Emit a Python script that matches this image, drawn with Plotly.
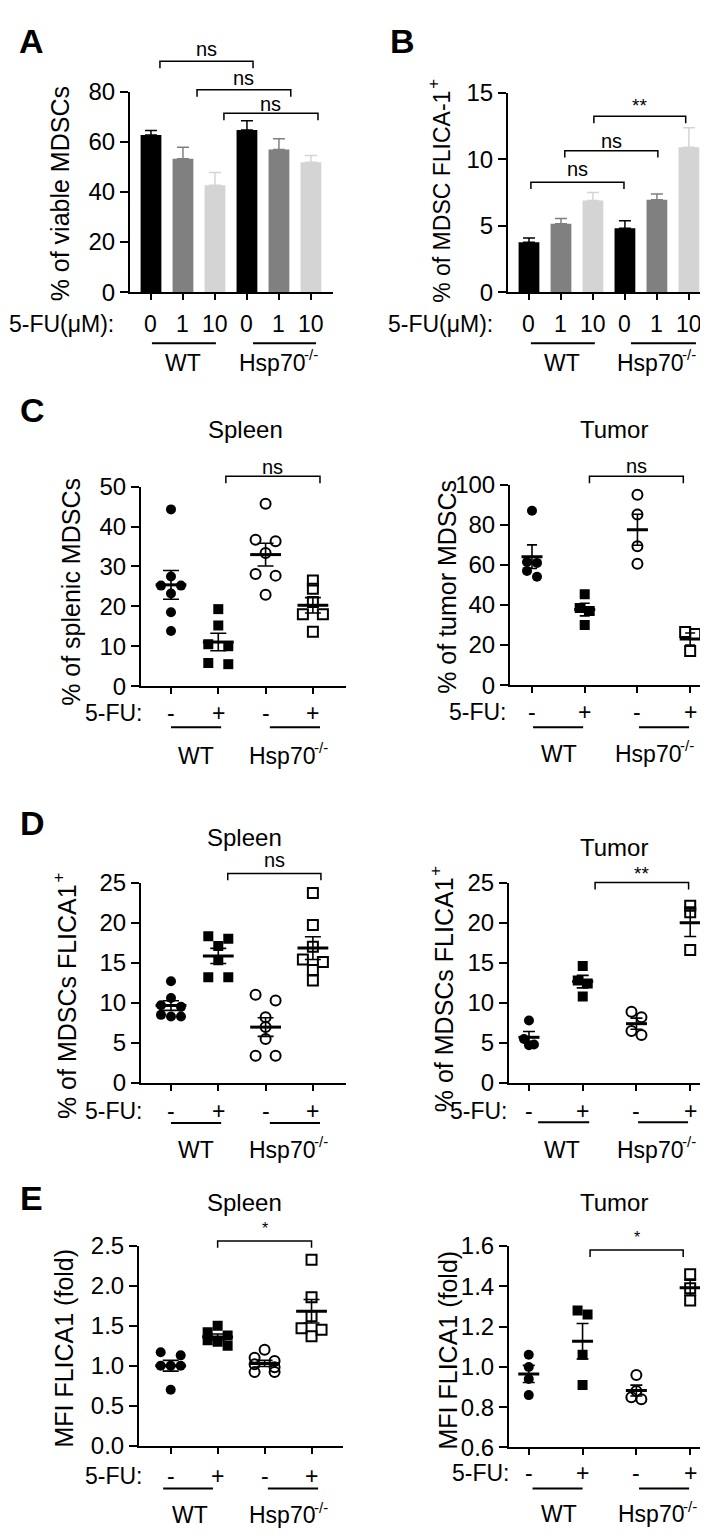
import numpy as np
import plotly.graph_objects as go

W, H = 708, 1535
FONT = "Arial, Liberation Sans, Helvetica, sans-serif"

# ---------------- data ----------------
dose_labels = ["0", "1", "10", "0", "1", "10"]
treatment_labels = ["-", "+", "-", "+"]
genotype_labels = ["WT", "Hsp70"]
knockout_sup = "-/-"

# A: % viable MDSCs (mean, SEM)
viable_mean = [62.7, 53.3, 42.7, 64.7, 56.9, 51.9]
viable_sem = [1.8, 4.5, 5.1, 3.7, 4.3, 2.7]
# B: % MDSC FLICA-1+ (mean, SEM)
flica_mean = [3.75, 5.15, 6.9, 4.8, 6.95, 10.9]
flica_sem = [0.32, 0.39, 0.59, 0.57, 0.44, 1.47]

# C: % MDSCs
c_spleen_wt_ctrl = [44.3, 27.5, 25.2, 25.2, 23.2, 18.5, 13.8]
c_spleen_wt_5fu = [19.3, 15.2, 10.5, 10.0, 5.8, 5.5]
c_spleen_ko_ctrl = [45.7, 36.7, 36.3, 33.4, 28.1, 27.7, 22.9]
c_spleen_ko_5fu = [26.5, 24.4, 21.1, 18.0, 18.0, 13.6]
c_tumor_wt_ctrl = [87.0, 61.4, 61.0, 57.0, 54.1]
c_tumor_wt_5fu = [45.4, 38.5, 37.0, 30.0]
c_tumor_ko_ctrl = [95.0, 85.1, 69.3, 60.6]
c_tumor_ko_5fu = [26.5, 25.5, 17.0]
# D: % MDSCs FLICA1+
d_spleen_wt_ctrl = [12.7, 10.6, 9.7, 9.5, 8.5, 8.3, 8.3]
d_spleen_wt_5fu = [18.3, 18.0, 17.1, 15.3, 13.2, 13.2]
d_spleen_ko_ctrl = [11.0, 10.3, 8.2, 7.0, 5.5, 3.4, 3.4]
d_spleen_ko_5fu = [23.7, 19.7, 17.0, 15.4, 15.1, 14.1, 12.8]
d_tumor_wt_ctrl = [7.8, 5.5, 4.8, 4.7]
d_tumor_wt_5fu = [14.6, 12.8, 12.4, 10.8]
d_tumor_ko_ctrl = [8.9, 8.2, 6.5, 6.0]
d_tumor_ko_5fu = [22.1, 21.3, 16.6]
# E: MFI FLICA1 (fold)
e_spleen_wt_ctrl = [1.17, 1.13, 1.0, 1.0, 1.0, 0.7]
e_spleen_wt_5fu = [1.50, 1.42, 1.38, 1.32, 1.30, 1.25]
e_spleen_ko_ctrl = [1.2, 1.1, 1.06, 1.02, 0.98, 0.92, 0.92]
e_spleen_ko_5fu = [2.33, 1.86, 1.62, 1.47, 1.45, 1.37]
e_tumor_wt_ctrl = [1.06, 1.0, 0.94, 0.86]
e_tumor_wt_5fu = [1.28, 1.26, 1.06, 0.91]
e_tumor_ko_ctrl = [0.96, 0.88, 0.85, 0.84]
e_tumor_ko_5fu = [1.46, 1.39, 1.33]

# tick values
a_yticks = [0, 20, 40, 60, 80]
b_yticks = [0, 5, 10, 15]
c_spleen_yticks = [0, 10, 20, 30, 40, 50]
c_tumor_yticks = [0, 20, 40, 60, 80, 100]
d_yticks = [0, 5, 10, 15, 20, 25]
e_spleen_yticks = [0, 0.5, 1.0, 1.5, 2.0, 2.5]
e_tumor_yticks = [0.6, 0.8, 1.0, 1.2, 1.4, 1.6]

# ---------------- helpers ----------------
def xp(px):
    return px / W


def yp(py):
    return 1 - py / H


layout = dict(width=W, height=H, margin=dict(l=0, r=0, t=0, b=0),
              paper_bgcolor="white", plot_bgcolor="white", showlegend=False,
              font=dict(family=FONT, color="black", size=23))
annotations, shapes, traces = [], [], []


def refs(n):
    s = "" if n == 1 else str(n)
    return "xaxis" + s, "yaxis" + s, "x" + s, "y" + s


def add_axes(n, xdom, xr, ydom, yr, xticks, yticks, yfmt=None):
    xa, ya, xref, yref = refs(n)
    layout[xa] = dict(domain=[xp(xdom[0]), xp(xdom[1])], range=list(xr), anchor=yref,
                      showline=True, linecolor="black", linewidth=2, ticks="outside",
                      ticklen=6, tickwidth=2, tickcolor="black", tickvals=xticks,
                      showticklabels=False, showgrid=False, zeroline=False, fixedrange=True)
    yd = dict(domain=[yp(ydom[0]), yp(ydom[1])], range=list(yr), anchor=xref,
              showline=True, linecolor="black", linewidth=2, ticks="outside",
              ticklen=8, tickwidth=2, tickcolor="black", tickvals=yticks,
              tickfont=dict(size=24, family=FONT, color="black"),
              showgrid=False, zeroline=False, fixedrange=True)
    if yfmt:
        yd["tickformat"] = yfmt
    layout[ya] = yd
    return xref, yref


def ann(text, x, y, xref="paper", size=23, xanchor="center", yanchor="middle", angle=0,
        xshift=0, yshift=0):
    annotations.append(dict(text=text, x=x, y=y, xref=xref, yref="paper", showarrow=False,
                            xanchor=xanchor, yanchor=yanchor, textangle=angle,
                            xshift=xshift, yshift=yshift,
                            font=dict(size=size, family=FONT, color="black")))


def ytitle(text, cx, top_py, sup=None, size=25):
    ann(text, xp(cx), yp(top_py), size=size, angle=-90, yanchor="top")
    if sup:
        ann(sup, xp(cx), yp(top_py + 2), size=17, angle=-90, yanchor="bottom", xshift=-8)


def genotype(xref, x, py):
    ann(genotype_labels[1], x, yp(py), xref=xref, xanchor="right", xshift=26)
    ann(knockout_sup, x, yp(py), xref=xref, xanchor="left", xshift=21, yshift=8, size=15)


def bracket(xref, x0, x1, py, label, label_py, size=20, drop=7):
    shapes.append(dict(type="path", xref=xref, yref="paper",
                       path=f"M {x0},{yp(py + drop)} L {x0},{yp(py)} L {x1},{yp(py)} L {x1},{yp(py + drop)}",
                       line=dict(color="black", width=1.5)))
    ann(label, (x0 + x1) / 2, yp(label_py), xref=xref, size=size)


def underline(xref, x0, x1, py):
    shapes.append(dict(type="line", xref=xref, yref="paper", x0=x0, x1=x1, y0=yp(py), y1=yp(py),
                       line=dict(color="black", width=2)))


def swarm(vals, ppu_y, ppu_x, pair, step_px=10, row_px=6):
    vals = np.asarray(vals, float)
    order = np.argsort(-vals, kind="stable")
    rows, cur = [], [order[0]]
    for k in order[1:]:
        if abs(vals[k] - vals[cur[0]]) * ppu_y <= row_px:
            cur.append(k)
        else:
            rows.append(cur)
            cur = [k]
    rows.append(cur)
    offs = np.zeros(len(vals))
    for row in rows:
        m = len(row)
        if m == 1:
            slots = [0]
        elif m == 2:
            slots = [-pair, pair]
        else:
            slots = [i - (m - 1) / 2 for i in range(m)]
        for k, s in zip(row, slots):
            offs[k] = s * step_px / ppu_x
    return offs


MARKERS = [dict(symbol="circle", size=10, color="black"),
           dict(symbol="square", size=10, color="black"),
           dict(symbol="circle-open", size=10, color="black", line=dict(width=2, color="black")),
           dict(symbol="square-open", size=10, color="black", line=dict(width=2, color="black"))]


def scatter_panel(n, groups, xdom, xr, ydom, yr, yticks, yfmt, mean_size, cap, pair):
    xref, yref = add_axes(n, xdom, xr, ydom, yr, [0, 1, 2, 3], yticks, yfmt)
    ppu_x = (xdom[1] - xdom[0]) / (xr[1] - xr[0])
    ppu_y = (ydom[0] - ydom[1]) / (yr[1] - yr[0])
    for g, vals in enumerate(groups):
        offs = swarm(vals, ppu_y, ppu_x, pair)
        traces.append(go.Scatter(x=g + offs, y=vals, mode="markers", marker=MARKERS[g],
                                 xaxis=xref, yaxis=yref, hoverinfo="skip"))
    for g, vals in enumerate(groups):
        v = np.asarray(vals, float)
        m = v.mean()
        s = v.std(ddof=1) / np.sqrt(len(v))
        traces.append(go.Scatter(x=[g], y=[m], mode="markers",
                                 marker=dict(symbol="line-ew", size=mean_size, color="black",
                                             line=dict(width=3, color="black")),
                                 error_y=dict(type="data", array=[s], color="black",
                                              thickness=1.6, width=cap),
                                 xaxis=xref, yaxis=yref, hoverinfo="skip"))
    return xref, yref


def bar_panel(n, means, sems, xdom, xr, ydom, yr, yticks):
    xref, yref = add_axes(n, xdom, xr, ydom, yr, list(range(6)), yticks)
    colors = ["black", "#808080", "#d4d4d4"] * 2
    for i, (m, s) in enumerate(zip(means, sems)):
        traces.append(go.Bar(x=[i], y=[m], width=0.65, marker=dict(color=colors[i], line=dict(width=0)),
                             error_y=dict(type="data", array=[s], arrayminus=[0], symmetric=False,
                                          color=colors[i], thickness=1.5, width=6),
                             xaxis=xref, yaxis=yref, hoverinfo="skip"))
    return xref, yref


def lower_labels(xref, fu_right, fu_py, ul_py, u_wt, u_ko, lab_py, lab_wt, lab_ko):
    ann("5-FU:", xp(fu_right), yp(fu_py), xanchor="right")
    for i, t in enumerate(treatment_labels):
        ann(t, i, yp(fu_py), xref=xref)
    underline(xref, u_wt[0], u_wt[1], ul_py)
    underline(xref, u_ko[0], u_ko[1], ul_py)
    ann(genotype_labels[0], lab_wt, yp(lab_py), xref=xref)
    genotype(xref, lab_ko, lab_py)


# ---------------- panel A ----------------
xa, _ = bar_panel(1, viable_mean, viable_sem, (122, 325), (-0.656, 5.69), (275, 71), (0, 80), a_yticks)
ann("<b>A</b>", xp(23), yp(19.5), size=34)
ytitle("% of viable MDSCs", 52, 64)
bracket(xa, 0.28, 3.19, 40, "ns", 27)
bracket(xa, 1.44, 4.37, 69, "ns", 57)
bracket(xa, 2.28, 5.22, 93, "ns", 83)
ann("5-FU(μM):", xp(108), yp(307), xanchor="right")
for i, t in enumerate(dose_labels):
    ann(t, i, yp(307), xref=xa)
underline(xa, 0.03, 2.03, 327)
underline(xa, 3.19, 5.16, 327)
ann(genotype_labels[0], 1.0, yp(347), xref=xa)
genotype(xa, 4.06, 347)

# ---------------- panel B ----------------
xb, _ = bar_panel(2, flica_mean, flica_sem, (500, 702), (-0.656, 5.66), (275, 72), (0, 15), b_yticks)
ann("<b>B</b>", xp(394), yp(19.5), size=34)
ytitle("% of MDSC FLICA-1", 434, 68, sup="+", size=23)
bracket(xb, 0.06, 2.97, 163, "ns", 150)
bracket(xb, 1.12, 4.03, 131, "ns", 120.7)
bracket(xb, 2.03, 4.9, 96, "**", 85, size=19)
ann("5-FU(μM):", xp(487), yp(307), xanchor="right")
for i, t in enumerate(dose_labels):
    ann(t, i, yp(307), xref=xb)
underline(xb, 0.06, 2.06, 327)
underline(xb, 3.19, 5.22, 327)
ann(genotype_labels[0], 1.03, yp(347), xref=xb)
genotype(xb, 4.06, 347)

# ---------------- panel C ----------------
ann("<b>C</b>", xp(24.5), yp(394.5), size=34)
xc1, _ = scatter_panel(3, [c_spleen_wt_ctrl, c_spleen_wt_5fu, c_spleen_ko_ctrl, c_spleen_ko_5fu],
                       (133, 338), (-0.634, 3.70), (676, 473), (0, 50), c_spleen_yticks, None, 22, 8, 1.0)
ann("Spleen", xp(237), yp(415), size=24)
ytitle("% of splenic MDSCs", 63, 462)
bracket(xc1, 1.16, 3.15, 462.5, "ns", 452.7)
lower_labels(xc1, 137, 703, 718, (0.0, 1.06), (2.09, 3.15), 747, 0.53, 2.54)

xc2, _ = scatter_panel(4, [c_tumor_wt_ctrl, c_tumor_wt_5fu, c_tumor_ko_ctrl, c_tumor_ko_5fu],
                       (502, 708), (-0.417, 3.49), (675, 471), (0, 100), c_tumor_yticks, None, 15, 5, 0.5)
ann("Tumor", xp(606), yp(415), size=24)
ytitle("% of tumor MDSCs", 439, 464)
bracket(xc2, 1.09, 2.87, 462.5, "ns", 451.7)
lower_labels(xc2, 501, 702, 718, (0.02, 0.97), (2.03, 2.98), 745, 0.51, 2.37)

# ---------------- panel D ----------------
ann("<b>D</b>", xp(24.5), yp(815), size=34)
xd1, _ = scatter_panel(5, [d_spleen_wt_ctrl, d_spleen_wt_5fu, d_spleen_ko_ctrl, d_spleen_ko_5fu],
                       (133, 338), (-0.634, 3.70), (1080, 876), (0, 25), d_yticks, None, 22, 8, 1.0)
ann("Spleen", xp(236), yp(830), size=24)
ytitle("% of MDSCs FLICA1", 59, 876, sup="+")
bracket(xd1, 1.2, 3.17, 866.7, "ns", 852.7)
lower_labels(xd1, 137, 1108, 1120.7, (0.0, 1.06), (2.09, 3.15), 1148, 0.53, 2.54)

xd2, _ = scatter_panel(6, [d_tumor_wt_ctrl, d_tumor_wt_5fu, d_tumor_ko_ctrl, d_tumor_ko_5fu],
                       (501, 708), (-0.372, 3.48), (1080, 876), (0, 25), d_yticks, None, 15, 6, 0.5)
ann("Tumor", xp(606), yp(840), size=24)
ytitle("% of MDSCs FLICA1", 436, 869, sup="+")
bracket(xd2, 1.23, 2.97, 876, "**", 867, size=19)
lower_labels(xd2, 502, 1108, 1120, (0.17, 1.12), (2.03, 2.96), 1148, 0.61, 2.42)

# ---------------- panel E ----------------
ann("<b>E</b>", xp(23.5), yp(1197), size=34)
xe1, _ = scatter_panel(7, [e_spleen_wt_ctrl, e_spleen_wt_5fu, e_spleen_ko_ctrl, e_spleen_ko_5fu],
                       (131, 335), (-0.675, 3.67), (1449, 1246), (0, 2.5), e_spleen_yticks, ".1f", 22, 8, 1.0)
ann("Spleen", xp(236), yp(1202), size=24)
ytitle("MFI FLICA1 (fold)", 56, 1247)
bracket(xe1, 1.0, 3.0, 1240.7, "*", 1228, size=16)
lower_labels(xe1, 137, 1480, 1492.7, (-0.16, 0.9), (2.07, 3.14), 1520, 0.41, 2.56)

xe2, _ = scatter_panel(8, [e_tumor_wt_ctrl, e_tumor_wt_5fu, e_tumor_ko_ctrl, e_tumor_ko_5fu],
                       (501, 708), (-0.367, 3.48), (1451, 1246), (0.6, 1.6), e_tumor_yticks, ".1f", 15, 6, 0.5)
ann("Tumor", xp(606), yp(1202), size=24)
ytitle("MFI FLICA1 (fold)", 440, 1249)
bracket(xe2, 1.14, 2.87, 1250, "*", 1237, size=16)
lower_labels(xe2, 504, 1477, 1492.7, (0.07, 1.0), (2.05, 2.98), 1519, 0.56, 2.44)

layout["annotations"] = annotations
layout["shapes"] = shapes
fig = go.Figure(data=traces, layout=layout)
fig.write_html("out.html")
